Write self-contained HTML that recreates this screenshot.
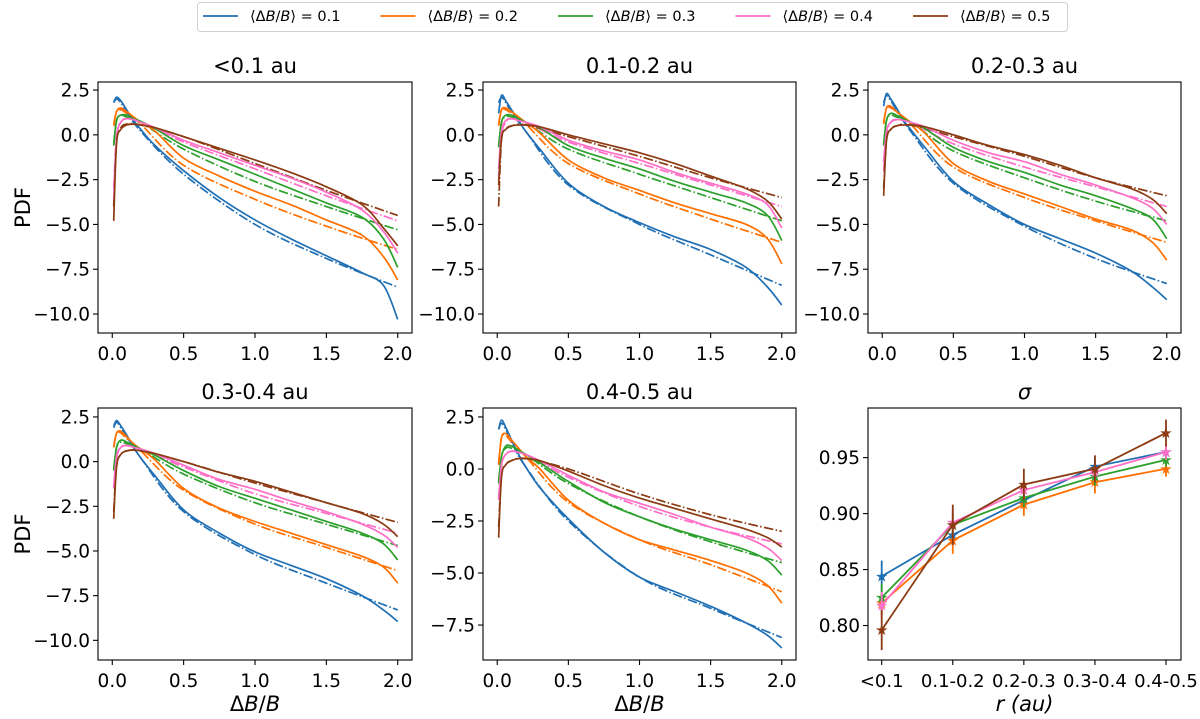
<!DOCTYPE html>
<html><head><meta charset="utf-8"><style>
html,body{margin:0;padding:0;background:#fff;}
svg{display:block;font-family:"DejaVu Sans","Liberation Sans",sans-serif;}
</style></head><body>
<svg id="fig" width="1200" height="719" viewBox="0 0 1200 719"></svg>
<script>
const xKnots=[0.01,0.03,0.06,0.1,0.15,0.2,0.3,0.5,0.75,1.0,1.25,1.5,1.75,1.9,2.0];
const xFitKnots=[0.01,0.03,0.06,0.1,0.2,0.5,1.0,1.5,2.0];
const seriesLabels=["0.1","0.2","0.3","0.4","0.5"];
const panelTitles=["<0.1 au","0.1-0.2 au","0.2-0.3 au","0.3-0.4 au","0.4-0.5 au"];
const xTicks=[0.0,0.5,1.0,1.5,2.0];
const yTicksA=[2.5,0.0,-2.5,-5.0,-7.5,-10.0];
const yTicksB=[2.5,0.0,-2.5,-5.0,-7.5];
const p1Data=[
[1.8,2.1,1.9,1.4,0.8,0.3,-0.6,-2.0,-3.5,-4.75,-5.8,-6.75,-7.7,-8.4,-10.3],
[0.5,1.3,1.5,1.3,1.0,0.7,0.2,-1.3,-2.3,-3.15,-3.9,-4.75,-5.6,-6.8,-8.1],
[-0.6,0.8,1.1,1.1,0.9,0.75,0.35,-0.6,-1.4,-2.2,-3.0,-3.8,-4.6,-5.8,-7.4],
[-3.6,-0.2,0.7,0.9,0.85,0.7,0.4,-0.3,-1.0,-1.7,-2.4,-3.2,-4.2,-5.4,-6.6],
[-4.8,-0.5,0.3,0.55,0.6,0.55,0.4,-0.1,-0.75,-1.4,-2.1,-2.9,-3.9,-5.2,-6.2]];
const p1Fit=[
[1.8,2.0,1.8,1.3,0.2,-2.2,-5.0,-6.9,-8.5],
[0.6,1.3,1.4,1.2,0.6,-1.7,-3.6,-5.1,-6.4],
[-0.5,0.8,1.1,1.0,0.7,-0.8,-2.6,-4.0,-5.3],
[-3.0,0.0,0.7,0.9,0.7,-0.4,-1.9,-3.4,-4.8],
[-4.0,-0.3,0.4,0.6,0.55,-0.1,-1.6,-3.1,-4.5]];
const p2Data=[
[1.2,2.2,1.9,1.4,0.8,0.2,-0.8,-2.7,-4.0,-4.9,-5.7,-6.4,-7.4,-8.5,-9.5],
[0.5,1.4,1.5,1.3,1.0,0.7,0.1,-1.4,-2.4,-3.1,-3.8,-4.4,-5.0,-5.8,-7.2],
[-0.7,0.7,1.1,1.1,0.9,0.7,0.4,-0.6,-1.3,-1.9,-2.6,-3.2,-3.8,-4.5,-5.9],
[-1.9,0.2,0.8,0.9,0.8,0.7,0.45,-0.3,-0.9,-1.4,-2.1,-2.7,-3.3,-3.9,-5.2],
[-2.8,-0.2,0.3,0.5,0.55,0.55,0.45,0.0,-0.5,-1.0,-1.6,-2.3,-3.0,-3.7,-4.7]];
const p2Fit=[
[1.8,2.1,1.8,1.3,0.2,-2.8,-5.0,-6.7,-8.4],
[0.6,1.4,1.4,1.2,0.6,-1.6,-3.3,-4.7,-6.0],
[-0.6,0.7,1.0,1.0,0.7,-0.8,-2.2,-3.5,-4.8],
[-2.5,0.0,0.7,0.9,0.7,-0.4,-1.6,-2.8,-4.0],
[-4.0,-0.3,0.3,0.5,0.55,-0.1,-1.2,-2.4,-3.5]];
const p3Data=[
[1.6,2.3,2.0,1.5,0.8,0.3,-0.7,-2.6,-3.9,-5.0,-5.8,-6.6,-7.6,-8.5,-9.2],
[0.6,1.5,1.6,1.3,1.0,0.7,0.1,-1.6,-2.6,-3.3,-4.0,-4.7,-5.3,-6.0,-7.0],
[-0.6,0.8,1.2,1.1,0.9,0.7,0.35,-0.7,-1.5,-2.1,-2.8,-3.4,-4.1,-4.7,-5.8],
[-1.5,0.2,0.7,0.85,0.8,0.7,0.45,-0.3,-1.0,-1.5,-2.2,-2.8,-3.5,-4.1,-5.0],
[-3.4,-0.3,0.3,0.5,0.55,0.55,0.45,0.0,-0.6,-1.1,-1.7,-2.4,-3.0,-3.6,-4.4]];
const p3Fit=[
[1.8,2.2,1.9,1.4,0.2,-2.7,-5.1,-6.9,-8.3],
[0.7,1.5,1.5,1.3,0.6,-1.8,-3.5,-4.8,-6.0],
[-0.5,0.8,1.1,1.0,0.7,-0.9,-2.4,-3.7,-4.8],
[-2.0,0.0,0.7,0.85,0.7,-0.5,-1.8,-2.9,-4.0],
[-3.0,-0.3,0.3,0.5,0.55,-0.1,-1.2,-2.4,-3.4]];
const p4Data=[
[2.0,2.3,2.0,1.5,0.8,0.2,-0.8,-2.7,-4.0,-5.05,-5.8,-6.55,-7.5,-8.3,-8.95],
[0.8,1.6,1.7,1.4,1.0,0.7,0.1,-1.5,-2.6,-3.35,-4.0,-4.65,-5.3,-5.9,-6.8],
[-0.5,0.8,1.2,1.1,0.9,0.7,0.35,-0.5,-1.4,-2.05,-2.7,-3.35,-4.0,-4.6,-5.5],
[-1.4,0.3,0.8,0.9,0.8,0.7,0.45,-0.2,-1.0,-1.55,-2.2,-2.8,-3.5,-4.1,-4.8],
[-3.2,-0.3,0.4,0.6,0.65,0.6,0.45,0.0,-0.6,-1.1,-1.7,-2.3,-2.9,-3.5,-4.2]];
const p4Fit=[
[1.9,2.2,1.9,1.4,0.2,-2.8,-5.2,-6.8,-8.3],
[0.8,1.6,1.6,1.3,0.6,-1.6,-3.5,-4.8,-6.1],
[-0.4,0.8,1.1,1.0,0.7,-0.7,-2.3,-3.5,-4.7],
[-1.5,0.2,0.8,0.9,0.7,-0.3,-1.8,-2.9,-4.0],
[-2.8,-0.2,0.4,0.6,0.6,0.0,-1.2,-2.3,-3.4]];
const p5Data=[
[1.9,2.35,2.0,1.4,0.7,0.1,-0.9,-2.4,-4.0,-5.2,-5.9,-6.6,-7.4,-8.0,-8.6],
[0.2,1.5,1.7,1.4,1.0,0.6,0.0,-1.5,-2.6,-3.4,-3.9,-4.4,-5.0,-5.6,-6.45],
[-0.7,0.6,1.1,1.1,0.9,0.7,0.3,-0.6,-1.6,-2.3,-2.9,-3.4,-3.9,-4.4,-5.1],
[-1.5,0.2,0.7,0.85,0.8,0.7,0.4,-0.3,-1.1,-1.65,-2.2,-2.8,-3.3,-3.8,-4.4],
[-3.3,-0.4,0.2,0.4,0.5,0.5,0.4,-0.1,-0.8,-1.4,-1.9,-2.4,-2.9,-3.3,-3.75]];
const p5Fit=[
[1.9,2.2,1.9,1.3,0.1,-2.5,-5.2,-6.7,-8.1],
[0.3,1.5,1.6,1.3,0.6,-1.6,-3.4,-4.6,-5.9],
[-0.6,0.6,1.0,1.0,0.7,-0.7,-2.3,-3.5,-4.5],
[-1.4,0.2,0.7,0.85,0.7,-0.4,-1.8,-2.8,-3.6],
[-2.8,-0.3,0.2,0.4,0.5,0.0,-1.2,-2.2,-3.0]];
const sigmaCats=["<0.1","0.1-0.2","0.2-0.3","0.3-0.4","0.4-0.5"];
const sigmaTicks=[0.80,0.85,0.90,0.95];
const sigmaVals=[
[0.844,0.881,0.912,0.942,0.955],
[0.820,0.876,0.908,0.928,0.940],
[0.825,0.890,0.914,0.933,0.948],
[0.818,0.892,0.921,0.937,0.955],
[0.796,0.890,0.926,0.940,0.972]];
const sigmaErr=[
[0.014,0.010,0.008,0.008,0.006],
[0.010,0.012,0.010,0.010,0.007],
[0.012,0.010,0.008,0.008,0.006],
[0.012,0.012,0.008,0.008,0.007],
[0.018,0.018,0.014,0.012,0.012]];

const COLORS=["#1f6fb4","#ff7000","#2ca02c","#ff6ec7","#8b3a12"];
const NS="http://www.w3.org/2000/svg";
const svg=document.getElementById('fig');
function mk(tag,attrs,parent){const e=document.createElementNS(NS,tag);for(const k in attrs)e.setAttribute(k,attrs[k]);(parent||svg).appendChild(e);return e;}
function txt(s,attrs,parent){const e=mk('text',attrs,parent);e.textContent=s;return e;}
function fmt(v,d){return (v<0?'\u2212':'')+Math.abs(v).toFixed(d);}
function smoothPath(pts){
  let d='M'+pts[0][0].toFixed(2)+','+pts[0][1].toFixed(2);
  for(let i=0;i<pts.length-1;i++){
    const p0=pts[Math.max(0,i-1)],p1=pts[i],p2=pts[i+1],p3=pts[Math.min(pts.length-1,i+2)];
    const c1x=p1[0]+(p2[0]-p0[0])/6,c1y=p1[1]+(p2[1]-p0[1])/6;
    const c2x=p2[0]-(p3[0]-p1[0])/6,c2y=p2[1]-(p3[1]-p1[1])/6;
    d+=' C'+c1x.toFixed(2)+','+c1y.toFixed(2)+' '+c2x.toFixed(2)+','+c2y.toFixed(2)+' '+p2[0].toFixed(2)+','+p2[1].toFixed(2);
  }
  return d;
}
const panels=[
 {l:98,r:412,t:82,b:333,y0:-11.06,y1:2.95,ticks:yTicksA,data:p1Data,fit:p1Fit,title:panelTitles[0],ylab:true,xlab:false},
 {l:483,r:796,t:82,b:333,y0:-11.06,y1:2.95,ticks:yTicksA,data:p2Data,fit:p2Fit,title:panelTitles[1],ylab:false,xlab:false},
 {l:868,r:1181,t:82,b:333,y0:-11.06,y1:2.95,ticks:yTicksA,data:p3Data,fit:p3Fit,title:panelTitles[2],ylab:false,xlab:false},
 {l:98,r:412,t:408,b:660,y0:-11.1,y1:3.0,ticks:yTicksA,data:p4Data,fit:p4Fit,title:panelTitles[3],ylab:true,xlab:true},
 {l:483,r:796,t:408,b:660,y0:-9.18,y1:2.93,ticks:yTicksB,data:p5Data,fit:p5Fit,title:panelTitles[4],ylab:false,xlab:true}];
panels.forEach((P,pi)=>{
  const g=mk('g',{});
  
  
  const X=v=>P.l+(v+0.1)/2.2*(P.r-P.l);
  const Y=v=>P.b-(v-P.y0)/(P.y1-P.y0)*(P.b-P.t);
  const clip=mk('clipPath',{id:'c'+pi},g);mk('rect',{x:P.l,y:P.t,width:P.r-P.l,height:P.b-P.t},clip);
  const cg=mk('g',{'clip-path':'url(#c'+pi+')'},g);
  P.fit.forEach((s,si)=>{
    const pth=mk('path',{d:smoothPath(s.map((v,i)=>[X(xFitKnots[i]),Y(v)])),fill:'none',stroke:COLORS[si],'stroke-width':1.7,'stroke-dasharray':'9.6,2.4,1.5,2.4'},cg);
    
    
  });
  P.data.forEach((s,si)=>{
    const pth=mk('path',{d:smoothPath(s.map((v,i)=>[X(xKnots[i]),Y(v)])),fill:'none',stroke:COLORS[si],'stroke-width':1.7},cg);
    
    
  });
  const fr=mk('rect',{x:P.l,y:P.t,width:P.r-P.l,height:P.b-P.t,fill:'none',stroke:'#000','stroke-width':1.1},g);
  
  
  xTicks.forEach(v=>{
    const x=X(v);mk('line',{x1:x,x2:x,y1:P.b,y2:P.b+5,stroke:'#000','stroke-width':1.1},g);
    const t=txt(v.toFixed(1),{x:x,y:P.b+27,'font-size':18.5,'text-anchor':'middle'},g);
    
    
  });
  P.ticks.forEach(v=>{
    const y=Y(v);mk('line',{x1:P.l-5,x2:P.l,y1:y,y2:y,stroke:'#000','stroke-width':1.1},g);
    const t=txt(fmt(v,1),{x:P.l-8,y:y+6.5,'font-size':18.5,'text-anchor':'end'},g);
    
    
  });
  const tt=txt(P.title,{x:(P.l+P.r)/2,y:P.t-9,'font-size':21,'text-anchor':'middle'},g);
  
  
  if(P.ylab){const yl=txt('PDF',{x:0,y:0,'font-size':21,'text-anchor':'middle',transform:'translate(30,'+((P.t+P.b)/2)+') rotate(-90)'},g);
    
    }
  if(P.xlab){const xl=mk('text',{x:(P.l+P.r)/2,y:711,'font-size':21,'text-anchor':'middle'},g);
    xl.innerHTML='\u0394<tspan font-style="italic">B</tspan>/<tspan font-style="italic">B</tspan>';
    
    }
});
// sigma panel
(function(){
  const P={l:868,r:1181,t:408,b:660,y0:0.7692,y1:0.9943};
  const g=mk('g',{});
  
  
  const X=i=>881.7+i*(1166-881.7)/4;
  const Y=v=>P.b-(v-P.y0)/(P.y1-P.y0)*(P.b-P.t);
  sigmaVals.forEach((s,si)=>{
    const c=COLORS[si];
    const ln=mk('polyline',{points:s.map((v,i)=>X(i)+','+Y(v)).join(' '),fill:'none',stroke:c,'stroke-width':1.8},g);
    
    
    s.forEach((v,i)=>{
      const e=sigmaErr[si][i];
      const eb=mk('line',{x1:X(i),x2:X(i),y1:Y(v-e),y2:Y(v+e),stroke:c,'stroke-width':1.8},g);
      
      
      const st=txt('\u2605',{x:X(i),y:Y(v)+5,'font-size':15,'text-anchor':'middle',fill:c},g);
      
      
    });
  });
  const fr=mk('rect',{x:P.l,y:P.t,width:P.r-P.l,height:P.b-P.t,fill:'none',stroke:'#000','stroke-width':1.1},g);
  
  
  sigmaCats.forEach((c,i)=>{
    const x=X(i);mk('line',{x1:x,x2:x,y1:P.b,y2:P.b+5,stroke:'#000','stroke-width':1.1},g);
    const t=txt(c,{x:x,y:P.b+27,'font-size':18,'text-anchor':'middle'},g);
    
    
  });
  sigmaTicks.forEach(v=>{
    const y=Y(v);mk('line',{x1:P.l-5,x2:P.l,y1:y,y2:y,stroke:'#000','stroke-width':1.1},g);
    const t=txt(v.toFixed(2),{x:P.l-8,y:y+6.5,'font-size':18.5,'text-anchor':'end'},g);
    
    
  });
  const tt=txt('\u03C3',{x:(P.l+P.r)/2,y:P.t-9,'font-size':21,'text-anchor':'middle','font-style':'italic'},g);
  
  
  const xl=mk('text',{x:(P.l+P.r)/2,y:711,'font-size':21,'text-anchor':'middle','font-style':'italic'},g);
  xl.textContent='r (au)';
  
  
})();
// legend
(function(){
  const g=mk('g',{});
  
  
  mk('rect',{x:197.5,y:2.5,width:870,height:29,rx:3,fill:'#fff',stroke:'#d0d0d0','stroke-width':1},g);
  seriesLabels.forEach((s,i)=>{
    const x0=203+i*177.5;
    const eg=mk('g',{},g);
    
    
    mk('line',{x1:x0,x2:x0+35,y1:16,y2:16,stroke:COLORS[i],'stroke-width':1.8},eg);
    const t=mk('text',{x:x0+47,y:21,'font-size':14.5},eg);
    t.innerHTML='\u27E8\u0394<tspan font-style="italic">B</tspan>/<tspan font-style="italic">B</tspan>\u27E9 = '+s;
  });
})();
</script>
</body></html>
